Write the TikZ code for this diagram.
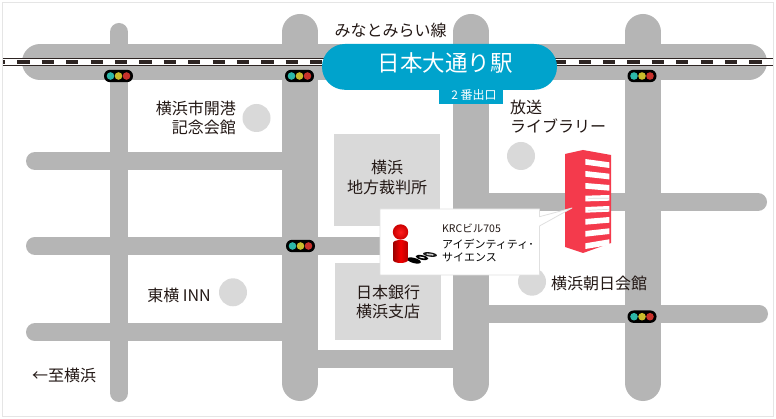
\documentclass[tikz,border=0pt]{standalone}
\usepackage{fontspec}
\setmainfont{Noto Sans CJK JP}
\definecolor{roadc}{HTML}{B5B5B5}
\definecolor{blockc}{HTML}{D9D9D9}
\definecolor{stationc}{HTML}{00A3CC}
\definecolor{bldc}{HTML}{F43A4C}
\definecolor{railc}{HTML}{2E2523}
\definecolor{sigteal}{HTML}{2DB8A8}
\definecolor{sigyel}{HTML}{C9BC2C}
\definecolor{sigred}{HTML}{C8322C}
\definecolor{inkc}{HTML}{231815}
\tikzset{
 thinroad/.style={line width=18pt,color=roadc,line cap=round},
 wideroad/.style={line width=36pt,color=roadc,line cap=round},
 block/.style={fill=blockc,draw=none},
 poi/.style={fill=blockc,draw=none,circle,minimum size=28pt,inner sep=0pt},
 lbl/.style={font=\fontsize{16}{19}\selectfont,text=inkc,inner sep=0pt,align=center},
 lblr/.style={lbl,align=right},
 lbll/.style={lbl,align=left},
 pics/signal/.style={code={
   \fill[black,rounded corners=6pt] (-14.5,-6.2) rectangle (14.5,6.2);
   \fill[sigteal] (-8,0) circle (3.8);
   \fill[sigyel] (0,0) circle (3.8);
   \fill[sigred] (8,0) circle (3.8);
 }},
}
\begin{document}
\begin{tikzpicture}[x=1pt,y=-1pt]
\useasboundingbox (0,0) rectangle (776,419);
\fill[white] (0,0) rectangle (776,419);
\draw[color=black!10,line width=1pt] (2.5,2.5) rectangle (773,416);
% roads
\draw[wideroad] (40,62) -- (749,62);
\draw[thinroad] (119,32) -- (119,393);
\draw[wideroad] (300,32) -- (300,383);
\draw[wideroad] (471,32) -- (471,383);
\draw[wideroad] (643,32) -- (643,383);
\draw[thinroad] (35,161) -- (300,161);
\draw[thinroad] (35,245.8) -- (471,245.8);
\draw[thinroad] (35,332.3) -- (300,332.3);
\draw[thinroad,line cap=butt] (300,359) -- (471,359);
\draw[thinroad] (471,313.7) -- (759,313.7);
\draw[thinroad] (471,202) -- (758,202);
% railway
\fill[white] (3,58) rectangle (773,66.5);
\draw[railc,line width=1.2pt] (3,58.6) -- (773,58.6) (3,65.9) -- (773,65.9);
\draw[railc,line width=4.4pt,dash pattern=on 12.2pt off 12.2pt,dash phase=-14.3pt] (3,62.2) -- (773,62.2);
% station
\fill[stationc] (439,85) rectangle (503,104);
\fill[stationc,rounded corners=22.9pt] (322,44) rectangle (557,89.8);
\node[inner sep=0pt,text=white,font=\fontsize{22.5}{24}\selectfont] (station) at (445,63) {日本大通り駅};
\node[inner sep=0pt,text=white,font=\fontsize{12}{14}\selectfont] (exitlbl) at (474,94.5) {2 番出口};
\node[lbl] (line) at (390.5,30) {みなとみらい線};
% signals
\pic at (118.5,76) {signal};
\pic at (299.5,76) {signal};
\pic at (642,76) {signal};
\pic at (300.5,246) {signal};
\pic at (642,316.7) {signal};
% blocks
\fill[block] (334,134) rectangle (440,225.7);
\fill[block] (334.5,263) rectangle (441,339.7);
\node[lbl] (court) at (387,177) {横浜\\[1pt]地方裁判所};
\node[lbl] (boj) at (388,301.5) {日本銀行\\横浜支店};
% points of interest
\node[poi] (p1) at (256.5,118) {};
\node[poi] (p2) at (521,156) {};
\node[poi] (p3) at (532,281.7) {};
\node[poi] (p4) at (233,292.3) {};
\node[lblr,anchor=east] (t1) at (236,118) {横浜市開港\\記念会館};
\node[lbll,anchor=west] (t2) at (510,116.5) {放送\\ライブラリー};
\node[lbll,anchor=west] (t3) at (551,283) {横浜朝日会館};
\node[lblr,anchor=east] (t4) at (211,295) {東横 INN};
\node[lbll,anchor=west] (t5) at (32,375) {←至横浜};
% building
\fill[bldc] (565,154) -- (583,150) -- (611,155) -- (611,243) -- (583,253) -- (565,247) -- cycle;
\foreach \yl/\yr in {159/162.3,171/173.7,183/185,195.7/195,207/206,219/217,231/228.3,243.3/239.3}{
  \fill[white] (585.3,\yl) -- (609.3,\yr) -- (609.3,\yr+5.7) -- (585.3,\yl+5.7) -- cycle;
}
\draw[black!15,line width=.7pt] (588,198.4) -- (609,198.2) (588,210.3) -- (609,209.3);
% callout
\draw[fill=white,draw=black!12,line width=0.8pt,line join=round] (380,209) -- (539.5,209) -- (539.5,216.7) -- (572,208) -- (539.5,226) -- (539.5,275) -- (380,275) -- cycle;
% person
\fill[black,rotate around={-15:(414,260.5)}] (414,260.5) ellipse (7 and 2.6);
\fill[black,rotate around={-12:(422,257.5)}] (422,257.5) ellipse (6.5 and 2.3);
\fill[black!90,rotate around={-8:(430,254.5)}] (430,254.5) ellipse (7 and 2.2);
\fill[white,rotate around={-12:(422,257.5)}] (422,257.5) ellipse (3 and .6);
\fill[white!80!black,rotate around={-8:(430,254.5)}] (430,254.5) ellipse (4 and .9);
\shade[left color=red!60!black,right color=red!70!black,middle color=red!95!black] (393,243) -- (393,260) arc[start angle=180,end angle=0,x radius=7.5,y radius=3] -- (408,243) arc[start angle=0,end angle=-180,x radius=7.5,y radius=3] -- cycle;
\shade[inner color=red!88!white,outer color=red!80!black] (400.5,232) circle (7.7);
\node[anchor=west,inner sep=0pt,text=inkc,font=\fontsize{10.5}{12}\selectfont] (krc) at (442,228) {KRCビル705};
\node[anchor=west,inner sep=0pt,align=left,text=black,font=\fontsize{11}{13}\selectfont] (name) at (442,251) {アイデンティティ･\\サイエンス};
\end{tikzpicture}
\end{document}
